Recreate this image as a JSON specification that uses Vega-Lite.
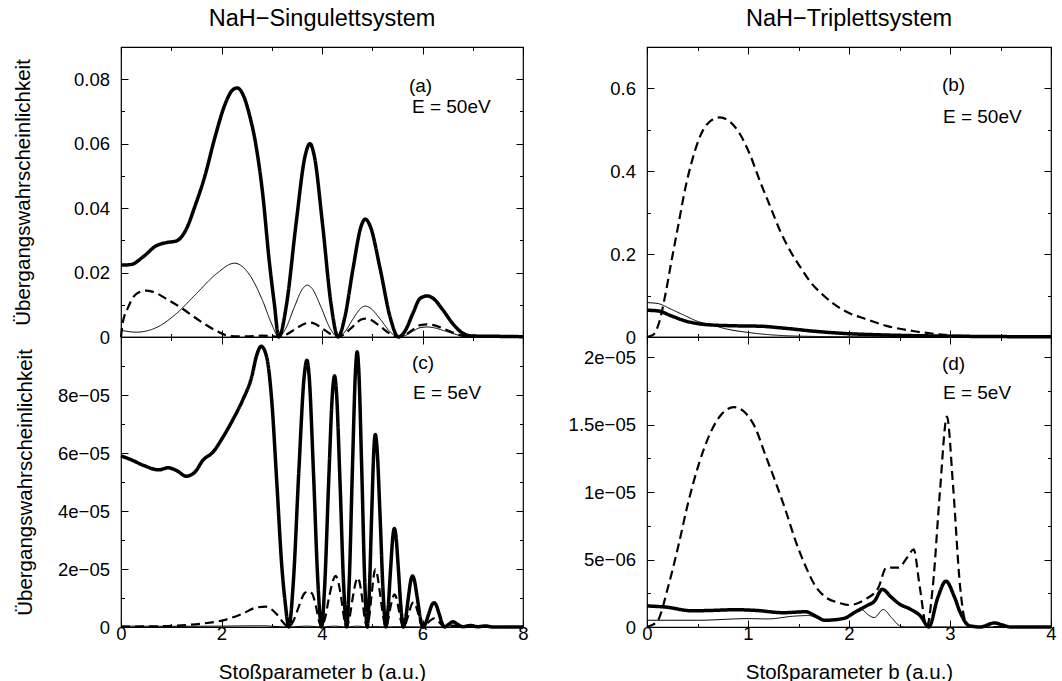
{
  "$schema": "https://vega.github.io/schema/vega-lite/v6.json",
  "background": "white",
  "padding": {"left": 12, "top": 6, "right": 0, "bottom": 0},
  "config": {
    "font": "Liberation Sans",
    "view": {"stroke": "#000", "strokeWidth": 1.2},
    "axis": {"grid": false, "domain": false, "tickColor": "#000", "tickWidth": 1, "labelColor": "#000", "titleColor": "#000", "labelFont": "Liberation Sans", "titleFont": "Liberation Sans", "labelFontSize": 18.5, "titleFontSize": 20.5, "titleFontWeight": "normal", "labelFlush": false, "labelOverlap": false, "labelBound": false},
    "title": {"font": "Liberation Sans", "fontSize": 23.5, "fontWeight": "normal", "color": "#000", "anchor": "middle", "frame": "group"},
    "line": {"strokeCap": "butt", "strokeJoin": "round"}
  },
  "datasets": {
    "A": [
      {"b":0,"P":0.0223,"k":"d"},{"b":0.2,"P":0.0225,"k":"d"},{"b":0.45,"P":0.025,"k":"d"},{"b":0.7,"P":0.0283,"k":"d"},{"b":0.9,"P":0.0293,"k":"d"},{"b":1.1,"P":0.0298,"k":"d"},{"b":1.3,"P":0.0335,"k":"d"},{"b":1.47,"P":0.0405,"k":"d"},{"b":1.67,"P":0.05,"k":"d"},{"b":1.87,"P":0.062,"k":"d"},{"b":2.07,"P":0.0722,"k":"d"},{"b":2.2,"P":0.0763,"k":"d"},{"b":2.31,"P":0.0773,"k":"d"},{"b":2.45,"P":0.0744,"k":"d"},{"b":2.55,"P":0.0693,"k":"d"},{"b":2.68,"P":0.06,"k":"d"},{"b":2.82,"P":0.0444,"k":"d"},{"b":2.95,"P":0.0236,"k":"d"},{"b":3.05,"P":0.0105,"k":"d"},{"b":3.14,"P":0,"k":"d"},
      {"b":3.295,"P":0.0102,"k":"d"},{"b":3.481,"P":0.0348,"k":"d"},{"b":3.667,"P":0.0564,"k":"d"},{"b":3.76,"P":0.06,"k":"d"},{"b":3.844,"P":0.0564,"k":"d"},{"b":4.012,"P":0.0348,"k":"d"},{"b":4.18,"P":0.0102,"k":"d"},{"b":4.32,"P":0,"k":"d"},
      {"b":4.455,"P":0.0062,"k":"d"},{"b":4.617,"P":0.0212,"k":"d"},{"b":4.779,"P":0.0344,"k":"d"},{"b":4.86,"P":0.0366,"k":"d"},{"b":4.959,"P":0.0344,"k":"d"},{"b":5.157,"P":0.0212,"k":"d"},{"b":5.355,"P":0.0062,"k":"d"},{"b":5.52,"P":0,"k":"d"},
      {"b":5.665,"P":0.0022,"k":"d"},{"b":5.81,"P":0.0074,"k":"d"},{"b":5.955,"P":0.012,"k":"d"},{"b":6.1,"P":0.01275,"k":"d"},{"b":6.22,"P":0.0119,"k":"d"},{"b":6.4,"P":0.0085,"k":"d"},{"b":6.6,"P":0.0042,"k":"d"},{"b":6.8,"P":0.0012,"k":"d"},{"b":7.0,"P":0.0003,"k":"d"},{"b":7.5,"P":0.0002,"k":"d"},{"b":8,"P":0.0001,"k":"d"},
      {"b":0,"P":0.0021,"k":"t"},{"b":0.3,"P":0.0015,"k":"t"},{"b":0.7,"P":0.0029,"k":"t"},{"b":1.09,"P":0.0071,"k":"t"},{"b":1.49,"P":0.0133,"k":"t"},{"b":1.89,"P":0.0195,"k":"t"},{"b":2.26,"P":0.0229,"k":"t"},{"b":2.55,"P":0.0195,"k":"t"},{"b":2.82,"P":0.0112,"k":"t"},{"b":3.0,"P":0.004,"k":"t"},{"b":3.14,"P":0,"k":"t"},
      {"b":3.28,"P":0.0027,"k":"t"},{"b":3.45,"P":0.0093,"k":"t"},{"b":3.62,"P":0.0151,"k":"t"},{"b":3.71,"P":0.0161,"k":"t"},{"b":3.8,"P":0.0151,"k":"t"},{"b":3.98,"P":0.0093,"k":"t"},{"b":4.16,"P":0.0027,"k":"t"},{"b":4.32,"P":0,"k":"t"},
      {"b":4.455,"P":0.0016,"k":"t"},{"b":4.617,"P":0.0056,"k":"t"},{"b":4.779,"P":0.009,"k":"t"},{"b":4.86,"P":0.0096,"k":"t"},{"b":4.959,"P":0.009,"k":"t"},{"b":5.157,"P":0.0056,"k":"t"},{"b":5.355,"P":0.0016,"k":"t"},{"b":5.52,"P":0,"k":"t"},
      {"b":5.665,"P":0.0005,"k":"t"},{"b":5.81,"P":0.0018,"k":"t"},{"b":5.955,"P":0.0029,"k":"t"},{"b":6.1,"P":0.0031,"k":"t"},{"b":6.22,"P":0.0029,"k":"t"},{"b":6.4,"P":0.0021,"k":"t"},{"b":6.6,"P":0.0011,"k":"t"},{"b":6.8,"P":0.0003,"k":"t"},{"b":7.0,"P":0.0001,"k":"t"},{"b":8,"P":0,"k":"t"},
      {"b":0,"P":0,"k":"s"},{"b":0.03,"P":0.004,"k":"s"},{"b":0.14,"P":0.0091,"k":"s"},{"b":0.3,"P":0.0133,"k":"s"},{"b":0.5,"P":0.0144,"k":"s"},{"b":0.62,"P":0.0141,"k":"s"},{"b":0.92,"P":0.0117,"k":"s"},{"b":1.24,"P":0.0086,"k":"s"},{"b":1.57,"P":0.005,"k":"s"},{"b":1.9,"P":0.0019,"k":"s"},{"b":2.17,"P":0.0003,"k":"s"},{"b":2.5,"P":0.0002,"k":"s"},{"b":2.8,"P":0.0004,"k":"s"},{"b":3.0,"P":0.0003,"k":"s"},{"b":3.14,"P":0,"k":"s"},
      {"b":3.295,"P":0.0008,"k":"s"},{"b":3.481,"P":0.0026,"k":"s"},{"b":3.667,"P":0.0042,"k":"s"},{"b":3.76,"P":0.0045,"k":"s"},{"b":3.844,"P":0.0042,"k":"s"},{"b":4.012,"P":0.0026,"k":"s"},{"b":4.18,"P":0.0008,"k":"s"},{"b":4.32,"P":0,"k":"s"},
      {"b":4.455,"P":0.001,"k":"s"},{"b":4.617,"P":0.0033,"k":"s"},{"b":4.779,"P":0.0054,"k":"s"},{"b":4.86,"P":0.0057,"k":"s"},{"b":4.959,"P":0.0054,"k":"s"},{"b":5.157,"P":0.0033,"k":"s"},{"b":5.355,"P":0.001,"k":"s"},{"b":5.52,"P":0,"k":"s"},
      {"b":5.665,"P":0.0007,"k":"s"},{"b":5.81,"P":0.0023,"k":"s"},{"b":5.955,"P":0.0037,"k":"s"},{"b":6.1,"P":0.0039,"k":"s"},{"b":6.22,"P":0.0037,"k":"s"},{"b":6.4,"P":0.0027,"k":"s"},{"b":6.6,"P":0.0014,"k":"s"},{"b":6.8,"P":0.0004,"k":"s"},{"b":7.0,"P":0.0001,"k":"s"},{"b":8,"P":0,"k":"s"}
    ],
    "B": [
      {"b":0,"P":0.0645,"k":"d"},{"b":0.11,"P":0.063,"k":"d"},{"b":0.24,"P":0.051,"k":"d"},{"b":0.38,"P":0.0387,"k":"d"},{"b":0.51,"P":0.032,"k":"d"},{"b":0.64,"P":0.029,"k":"d"},{"b":0.8,"P":0.0274,"k":"d"},{"b":0.97,"P":0.0266,"k":"d"},{"b":1.13,"P":0.026,"k":"d"},{"b":1.3,"P":0.0226,"k":"d"},{"b":1.47,"P":0.0186,"k":"d"},{"b":1.63,"P":0.0145,"k":"d"},{"b":1.83,"P":0.0105,"k":"d"},{"b":1.99,"P":0.008,"k":"d"},{"b":2.2,"P":0.006,"k":"d"},{"b":2.5,"P":0.004,"k":"d"},{"b":3.0,"P":0.002,"k":"d"},{"b":3.5,"P":0.001,"k":"d"},{"b":4,"P":0.0005,"k":"d"},
      {"b":0,"P":0.083,"k":"t"},{"b":0.11,"P":0.0806,"k":"t"},{"b":0.24,"P":0.067,"k":"t"},{"b":0.38,"P":0.051,"k":"t"},{"b":0.51,"P":0.037,"k":"t"},{"b":0.64,"P":0.029,"k":"t"},{"b":0.8,"P":0.0186,"k":"t"},{"b":0.97,"P":0.012,"k":"t"},{"b":1.3,"P":0.004,"k":"t"},{"b":1.63,"P":0.0015,"k":"t"},{"b":2.0,"P":0.0005,"k":"t"},{"b":4,"P":0,"k":"t"},
      {"b":0,"P":0,"k":"s"},{"b":0.06,"P":0.005,"k":"s"},{"b":0.12,"P":0.035,"k":"s"},{"b":0.18,"P":0.1,"k":"s"},{"b":0.24,"P":0.18,"k":"s"},{"b":0.31,"P":0.27,"k":"s"},{"b":0.38,"P":0.36,"k":"s"},{"b":0.44,"P":0.42,"k":"s"},{"b":0.51,"P":0.475,"k":"s"},{"b":0.6,"P":0.515,"k":"s"},{"b":0.72,"P":0.53,"k":"s"},{"b":0.82,"P":0.52,"k":"s"},{"b":0.92,"P":0.49,"k":"s"},{"b":1.02,"P":0.44,"k":"s"},{"b":1.12,"P":0.375,"k":"s"},{"b":1.22,"P":0.315,"k":"s"},{"b":1.32,"P":0.255,"k":"s"},{"b":1.42,"P":0.207,"k":"s"},{"b":1.52,"P":0.168,"k":"s"},{"b":1.62,"P":0.132,"k":"s"},{"b":1.74,"P":0.102,"k":"s"},{"b":1.86,"P":0.078,"k":"s"},{"b":2.0,"P":0.058,"k":"s"},{"b":2.17,"P":0.043,"k":"s"},{"b":2.37,"P":0.027,"k":"s"},{"b":2.63,"P":0.0145,"k":"s"},{"b":2.89,"P":0.0065,"k":"s"},{"b":3.06,"P":0.003,"k":"s"},{"b":3.5,"P":0.001,"k":"s"},{"b":4,"P":0,"k":"s"}
    ],
    "C": [
      {"b":0,"P":5.9e-5,"k":"d"},{"b":0.2,"P":5.77e-5,"k":"d"},{"b":0.45,"P":5.57e-5,"k":"d"},{"b":0.75,"P":5.42e-5,"k":"d"},{"b":0.94,"P":5.49e-5,"k":"d"},{"b":1.1,"P":5.4e-5,"k":"d"},{"b":1.3,"P":5.2e-5,"k":"d"},{"b":1.47,"P":5.34e-5,"k":"d"},{"b":1.63,"P":5.75e-5,"k":"d"},{"b":1.83,"P":6.03e-5,"k":"d"},{"b":2.03,"P":6.55e-5,"k":"d"},{"b":2.22,"P":7.13e-5,"k":"d"},{"b":2.42,"P":7.82e-5,"k":"d"},{"b":2.6,"P":8.62e-5,"k":"d"},{"b":2.7,"P":9.37e-5,"k":"d"},{"b":2.79,"P":9.68e-5,"k":"d"},{"b":2.9,"P":9.3e-5,"k":"d"},{"b":3.0,"P":7.8e-5,"k":"d"},{"b":3.1,"P":5.0e-5,"k":"d"},{"b":3.2,"P":2.1e-5,"k":"d"},{"b":3.27,"P":8e-6,"k":"d"},{"b":3.34,"P":0,"k":"d"},
      {"b":3.43,"P":1.56e-5,"k":"d"},{"b":3.538,"P":5.34e-5,"k":"d"},{"b":3.646,"P":8.65e-5,"k":"d"},{"b":3.7,"P":9.2e-5,"k":"d"},{"b":3.744,"P":8.65e-5,"k":"d"},{"b":3.83,"P":5.34e-5,"k":"d"},{"b":3.918,"P":1.56e-5,"k":"d"},{"b":3.99,"P":0,"k":"d"},
      {"b":4.055,"P":1.47e-5,"k":"d"},{"b":4.133,"P":5.02e-5,"k":"d"},{"b":4.211,"P":8.14e-5,"k":"d"},{"b":4.25,"P":8.66e-5,"k":"d"},{"b":4.286,"P":8.14e-5,"k":"d"},{"b":4.358,"P":5.02e-5,"k":"d"},{"b":4.43,"P":1.47e-5,"k":"d"},{"b":4.49,"P":0,"k":"d"},
      {"b":4.543,"P":1.61e-5,"k":"d"},{"b":4.606,"P":5.5e-5,"k":"d"},{"b":4.669,"P":8.92e-5,"k":"d"},{"b":4.7,"P":9.49e-5,"k":"d"},{"b":4.73,"P":8.92e-5,"k":"d"},{"b":4.79,"P":5.5e-5,"k":"d"},{"b":4.85,"P":1.61e-5,"k":"d"},{"b":4.9,"P":0,"k":"d"},
      {"b":4.94,"P":1.13e-5,"k":"d"},{"b":4.988,"P":3.85e-5,"k":"d"},{"b":5.036,"P":6.24e-5,"k":"d"},{"b":5.06,"P":6.64e-5,"k":"d"},{"b":5.092,"P":6.24e-5,"k":"d"},{"b":5.155,"P":3.85e-5,"k":"d"},{"b":5.218,"P":1.13e-5,"k":"d"},{"b":5.27,"P":0,"k":"d"},
      {"b":5.313,"P":5.8e-6,"k":"d"},{"b":5.364,"P":1.97e-5,"k":"d"},{"b":5.415,"P":3.2e-5,"k":"d"},{"b":5.44,"P":3.4e-5,"k":"d"},{"b":5.467,"P":3.2e-5,"k":"d"},{"b":5.521,"P":1.97e-5,"k":"d"},{"b":5.575,"P":5.8e-6,"k":"d"},{"b":5.62,"P":0,"k":"d"},
      {"b":5.665,"P":3e-6,"k":"d"},{"b":5.719,"P":1.02e-5,"k":"d"},{"b":5.773,"P":1.65e-5,"k":"d"},{"b":5.8,"P":1.76e-5,"k":"d"},{"b":5.832,"P":1.65e-5,"k":"d"},{"b":5.895,"P":1.02e-5,"k":"d"},{"b":5.958,"P":3e-6,"k":"d"},{"b":6.01,"P":0,"k":"d"},
      {"b":6.065,"P":1.4e-6,"k":"d"},{"b":6.131,"P":4.9e-6,"k":"d"},{"b":6.197,"P":7.9e-6,"k":"d"},{"b":6.23,"P":8.4e-6,"k":"d"},{"b":6.262,"P":7.9e-6,"k":"d"},{"b":6.325,"P":4.9e-6,"k":"d"},{"b":6.388,"P":1.4e-6,"k":"d"},{"b":6.44,"P":0,"k":"d"},
      {"b":6.52,"P":9e-7,"k":"d"},{"b":6.61,"P":1.8e-6,"k":"d"},{"b":6.7,"P":9e-7,"k":"d"},{"b":6.8,"P":1e-7,"k":"d"},{"b":6.95,"P":5e-7,"k":"d"},{"b":7.1,"P":1e-7,"k":"d"},{"b":7.25,"P":3.5e-7,"k":"d"},{"b":7.4,"P":0,"k":"d"},{"b":8,"P":0,"k":"d"},
      {"b":0,"P":3e-7,"k":"t"},{"b":1,"P":2.5e-7,"k":"t"},{"b":2,"P":3e-7,"k":"t"},{"b":2.8,"P":4e-7,"k":"t"},{"b":3.34,"P":0,"k":"t"},{"b":3.7,"P":3e-7,"k":"t"},{"b":3.99,"P":0,"k":"t"},{"b":4.25,"P":3e-7,"k":"t"},{"b":4.49,"P":0,"k":"t"},{"b":4.7,"P":3e-7,"k":"t"},{"b":4.9,"P":0,"k":"t"},{"b":5.06,"P":2e-7,"k":"t"},{"b":5.27,"P":0,"k":"t"},{"b":5.5,"P":1e-7,"k":"t"},{"b":6,"P":0,"k":"t"},{"b":8,"P":0,"k":"t"},
      {"b":0,"P":1e-7,"k":"s"},{"b":0.5,"P":2e-7,"k":"s"},{"b":1.0,"P":4e-7,"k":"s"},{"b":1.57,"P":1.1e-6,"k":"s"},{"b":2.03,"P":2.3e-6,"k":"s"},{"b":2.42,"P":4.6e-6,"k":"s"},{"b":2.69,"P":6.7e-6,"k":"s"},{"b":2.88,"P":7e-6,"k":"s"},{"b":3.09,"P":4.6e-6,"k":"s"},{"b":3.25,"P":1.1e-6,"k":"s"},{"b":3.34,"P":0,"k":"s"},
      {"b":3.43,"P":2.1e-6,"k":"s"},{"b":3.54,"P":7.1e-6,"k":"s"},{"b":3.65,"P":1.16e-5,"k":"s"},{"b":3.73,"P":1.23e-5,"k":"s"},{"b":3.8,"P":1.16e-5,"k":"s"},{"b":3.88,"P":7.1e-6,"k":"s"},{"b":3.94,"P":2.1e-6,"k":"s"},{"b":3.99,"P":0,"k":"s"},
      {"b":4.06,"P":3e-6,"k":"s"},{"b":4.14,"P":1.02e-5,"k":"s"},{"b":4.23,"P":1.65e-5,"k":"s"},{"b":4.27,"P":1.76e-5,"k":"s"},{"b":4.31,"P":1.65e-5,"k":"s"},{"b":4.38,"P":1.02e-5,"k":"s"},{"b":4.44,"P":3e-6,"k":"s"},{"b":4.49,"P":0,"k":"s"},
      {"b":4.545,"P":2.9e-6,"k":"s"},{"b":4.61,"P":9.9e-6,"k":"s"},{"b":4.68,"P":1.6e-5,"k":"s"},{"b":4.71,"P":1.7e-5,"k":"s"},{"b":4.74,"P":1.6e-5,"k":"s"},{"b":4.8,"P":9.9e-6,"k":"s"},{"b":4.85,"P":2.9e-6,"k":"s"},{"b":4.9,"P":0,"k":"s"},
      {"b":4.94,"P":3.4e-6,"k":"s"},{"b":4.99,"P":1.15e-5,"k":"s"},{"b":5.04,"P":1.87e-5,"k":"s"},{"b":5.06,"P":1.99e-5,"k":"s"},{"b":5.09,"P":1.87e-5,"k":"s"},{"b":5.155,"P":1.15e-5,"k":"s"},{"b":5.22,"P":3.4e-6,"k":"s"},{"b":5.27,"P":0,"k":"s"},
      {"b":5.31,"P":1.9e-6,"k":"s"},{"b":5.36,"P":6.6e-6,"k":"s"},{"b":5.42,"P":1.06e-5,"k":"s"},{"b":5.44,"P":1.13e-5,"k":"s"},{"b":5.47,"P":1.06e-5,"k":"s"},{"b":5.52,"P":6.6e-6,"k":"s"},{"b":5.575,"P":1.9e-6,"k":"s"},{"b":5.62,"P":0,"k":"s"},
      {"b":5.67,"P":1.4e-6,"k":"s"},{"b":5.73,"P":4.9e-6,"k":"s"},{"b":5.79,"P":8e-6,"k":"s"},{"b":5.82,"P":8.5e-6,"k":"s"},{"b":5.85,"P":8e-6,"k":"s"},{"b":5.91,"P":4.9e-6,"k":"s"},{"b":5.96,"P":1.4e-6,"k":"s"},{"b":6.01,"P":0,"k":"s"},
      {"b":6.12,"P":1.7e-6,"k":"s"},{"b":6.23,"P":3e-6,"k":"s"},{"b":6.33,"P":1.7e-6,"k":"s"},{"b":6.44,"P":0,"k":"s"},{"b":6.61,"P":5e-7,"k":"s"},{"b":6.8,"P":0,"k":"s"},{"b":8,"P":0,"k":"s"}
    ],
    "D": [
      {"b":0,"P":1.56e-6,"k":"d"},{"b":0.18,"P":1.48e-6,"k":"d"},{"b":0.45,"P":1.2e-6,"k":"d"},{"b":0.64,"P":1.23e-6,"k":"d"},{"b":0.88,"P":1.28e-6,"k":"d"},{"b":1.08,"P":1.23e-6,"k":"d"},{"b":1.35,"P":1.06e-6,"k":"d"},{"b":1.57,"P":1.13e-6,"k":"d"},{"b":1.67,"P":8.1e-7,"k":"d"},{"b":1.76,"P":5e-7,"k":"d"},{"b":1.95,"P":6.4e-7,"k":"d"},{"b":2.06,"P":1.1e-6,"k":"d"},{"b":2.18,"P":1.6e-6,"k":"d"},{"b":2.25,"P":1.9e-6,"k":"d"},{"b":2.33,"P":2.79e-6,"k":"d"},{"b":2.42,"P":2.2e-6,"k":"d"},{"b":2.5,"P":1.7e-6,"k":"d"},{"b":2.6,"P":1.35e-6,"k":"d"},{"b":2.71,"P":8e-7,"k":"d"},{"b":2.79,"P":0,"k":"d"},{"b":2.88,"P":2.2e-6,"k":"d"},{"b":2.96,"P":3.4e-6,"k":"d"},{"b":3.04,"P":2.3e-6,"k":"d"},{"b":3.1,"P":1.1e-6,"k":"d"},{"b":3.19,"P":1e-7,"k":"d"},{"b":3.3,"P":0,"k":"d"},{"b":3.44,"P":3e-7,"k":"d"},{"b":3.52,"P":1.5e-7,"k":"d"},{"b":3.6,"P":0,"k":"d"},{"b":4,"P":0,"k":"d"},
      {"b":0,"P":5e-7,"k":"t"},{"b":0.5,"P":5e-7,"k":"t"},{"b":1.0,"P":6.2e-7,"k":"t"},{"b":1.2,"P":6e-7,"k":"t"},{"b":1.45,"P":8e-7,"k":"t"},{"b":1.6,"P":8.5e-7,"k":"t"},{"b":1.75,"P":5e-7,"k":"t"},{"b":1.95,"P":6.4e-7,"k":"t"},{"b":2.12,"P":1.3e-6,"k":"t"},{"b":2.2,"P":8.5e-7,"k":"t"},{"b":2.25,"P":7e-7,"k":"t"},{"b":2.34,"P":1.3e-6,"k":"t"},{"b":2.42,"P":7e-7,"k":"t"},{"b":2.5,"P":1e-7,"k":"t"},{"b":2.56,"P":0,"k":"t"},{"b":4,"P":0,"k":"t"},
      {"b":0,"P":0,"k":"s"},{"b":0.1,"P":4e-7,"k":"s"},{"b":0.21,"P":3e-6,"k":"s"},{"b":0.31,"P":6e-6,"k":"s"},{"b":0.41,"P":9.3e-6,"k":"s"},{"b":0.51,"P":1.2e-5,"k":"s"},{"b":0.61,"P":1.41e-5,"k":"s"},{"b":0.73,"P":1.57e-5,"k":"s"},{"b":0.86,"P":1.63e-5,"k":"s"},{"b":0.97,"P":1.59e-5,"k":"s"},{"b":1.07,"P":1.48e-5,"k":"s"},{"b":1.17,"P":1.28e-5,"k":"s"},{"b":1.27,"P":1.08e-5,"k":"s"},{"b":1.37,"P":8.7e-6,"k":"s"},{"b":1.47,"P":6.4e-6,"k":"s"},{"b":1.57,"P":4.5e-6,"k":"s"},{"b":1.67,"P":3e-6,"k":"s"},{"b":1.77,"P":2.2e-6,"k":"s"},{"b":1.9,"P":1.8e-6,"k":"s"},{"b":2.0,"P":1.63e-6,"k":"s"},{"b":2.16,"P":2.05e-6,"k":"s"},{"b":2.29,"P":2.9e-6,"k":"s"},{"b":2.37,"P":4.4e-6,"k":"s"},{"b":2.49,"P":4.4e-6,"k":"s"},{"b":2.58,"P":5.2e-6,"k":"s"},{"b":2.64,"P":5.75e-6,"k":"s"},{"b":2.7,"P":3e-6,"k":"s"},{"b":2.77,"P":0,"k":"s"},{"b":2.83,"P":3e-6,"k":"s"},{"b":2.9,"P":1e-5,"k":"s"},{"b":2.97,"P":1.56e-5,"k":"s"},{"b":3.03,"P":1.05e-5,"k":"s"},{"b":3.1,"P":3e-6,"k":"s"},{"b":3.15,"P":4.4e-7,"k":"s"},{"b":3.2,"P":0,"k":"s"},{"b":4,"P":0,"k":"s"}
    ]
  },
  "columns": 2,
  "spacing": {"row": 0, "column": 124},
  "bounds": "flush",
  "concat": [
    {
      "width": 402, "height": 290,
      "title": {"text": "NaH−Singulettsystem", "baseline": "alphabetic", "offset": -3},
      "layer": [
        {
          "data": {"name": "A"},
          "mark": {"type": "line", "interpolate": "monotone", "color": "#000"},
          "encoding": {
            "x": {"field": "b", "type": "quantitative", "scale": {"domain": [0, 8], "nice": false}, "axis": {"orient": "bottom", "values": [0,1,2,3,4,5,6,7,8], "labels": false, "title": null, "tickSize": {"condition": {"test": "datum.value % 2 == 0", "value": -7}, "value": -3.5}}},
            "y": {"field": "P", "type": "quantitative", "scale": {"domain": [0, 0.09], "nice": false}, "axis": {"orient": "left", "values": [0,0.01,0.02,0.03,0.04,0.05,0.06,0.07,0.08], "labelExpr": "['0','','0.02','','0.04','','0.06','','0.08'][round(datum.value*100)]", "title": "Übergangswahrscheinlichkeit", "titlePadding": 40, "labelPadding": 18.5, "tickSize": {"condition": {"test": "round(datum.value*100) % 2 == 0", "value": -7}, "value": -3.5}}},
            "strokeWidth": {"field": "k", "type": "nominal", "scale": {"type": "ordinal", "domain": ["d","t","s"], "range": [3.5, 1, 2.2]}, "legend": null},
            "strokeDash": {"field": "k", "type": "nominal", "scale": {"type": "ordinal", "domain": ["d","t","s"], "range": [[1,0],[1,0],[9,5]]}, "legend": null}
          }
        },
        {
          "data": {"name": "A"},
          "mark": {"type": "point", "opacity": 0},
          "encoding": {
            "x": {"field": "b", "type": "quantitative", "scale": {"domain": [0, 8], "nice": false}, "axis": {"orient": "top", "values": [0,1,2,3,4,5,6,7,8], "labels": false, "title": null, "tickSize": {"condition": {"test": "datum.value % 2 == 0", "value": -7}, "value": -3.5}}},
            "y": {"field": "P", "type": "quantitative", "scale": {"domain": [0, 0.09], "nice": false}, "axis": {"orient": "right", "values": [0,0.01,0.02,0.03,0.04,0.05,0.06,0.07,0.08], "labels": false, "title": null, "tickSize": {"condition": {"test": "round(datum.value*100) % 2 == 0", "value": -7}, "value": -3.5}}}
          }
        },
        {
          "data": {"values": [{}]},
          "mark": {"type": "text", "align": "left", "baseline": "alphabetic", "fontSize": 19, "font": "Liberation Sans", "color": "#000"},
          "encoding": {
            "x": {"datum": 5.73, "type": "quantitative", "scale": {"domain": [0, 8], "nice": false}, "axis": null},
            "y": {"datum": 0.0759, "type": "quantitative", "scale": {"domain": [0, 0.09], "nice": false}, "axis": null},
            "text": {"value": "(a)"}
          }
        },
        {
          "data": {"values": [{}]},
          "mark": {"type": "text", "align": "left", "baseline": "alphabetic", "fontSize": 19, "font": "Liberation Sans", "color": "#000"},
          "encoding": {
            "x": {"datum": 5.79, "type": "quantitative", "scale": {"domain": [0, 8], "nice": false}, "axis": null},
            "y": {"datum": 0.0696, "type": "quantitative", "scale": {"domain": [0, 0.09], "nice": false}, "axis": null},
            "text": {"value": "E = 50eV"}
          }
        }
      ],
      "resolve": {"axis": {"x": "independent", "y": "independent"}}
    },
    {
      "width": 404, "height": 290,
      "title": {"text": "NaH−Triplettsystem", "baseline": "alphabetic", "offset": -3},
      "layer": [
        {
          "data": {"name": "B"},
          "mark": {"type": "line", "interpolate": "monotone", "color": "#000"},
          "encoding": {
            "x": {"field": "b", "type": "quantitative", "scale": {"domain": [0, 4], "nice": false}, "axis": {"orient": "bottom", "values": [0,0.5,1,1.5,2,2.5,3,3.5,4], "labels": false, "title": null, "tickSize": {"condition": {"test": "datum.value % 1 == 0", "value": -7}, "value": -3.5}}},
            "y": {"field": "P", "type": "quantitative", "scale": {"domain": [0, 0.7], "nice": false}, "axis": {"orient": "left", "values": [0,0.1,0.2,0.3,0.4,0.5,0.6], "labelExpr": "['0','','0.2','','0.4','','0.6'][round(datum.value*10)]", "title": null, "labelPadding": 18.5, "tickSize": {"condition": {"test": "round(datum.value*10) % 2 == 0", "value": -7}, "value": -3.5}}},
            "strokeWidth": {"field": "k", "type": "nominal", "scale": {"type": "ordinal", "domain": ["d","t","s"], "range": [3.5, 1, 2.2]}, "legend": null},
            "strokeDash": {"field": "k", "type": "nominal", "scale": {"type": "ordinal", "domain": ["d","t","s"], "range": [[1,0],[1,0],[9,5]]}, "legend": null}
          }
        },
        {
          "data": {"name": "B"},
          "mark": {"type": "point", "opacity": 0},
          "encoding": {
            "x": {"field": "b", "type": "quantitative", "scale": {"domain": [0, 4], "nice": false}, "axis": {"orient": "top", "values": [0,0.5,1,1.5,2,2.5,3,3.5,4], "labels": false, "title": null, "tickSize": {"condition": {"test": "datum.value % 1 == 0", "value": -7}, "value": -3.5}}},
            "y": {"field": "P", "type": "quantitative", "scale": {"domain": [0, 0.7], "nice": false}, "axis": {"orient": "right", "values": [0,0.1,0.2,0.3,0.4,0.5,0.6], "labels": false, "title": null, "tickSize": {"condition": {"test": "round(datum.value*10) % 2 == 0", "value": -7}, "value": -3.5}}}
          }
        },
        {
          "data": {"values": [{}]},
          "mark": {"type": "text", "align": "left", "baseline": "alphabetic", "fontSize": 19, "font": "Liberation Sans", "color": "#000"},
          "encoding": {
            "x": {"datum": 2.92, "type": "quantitative", "scale": {"domain": [0, 4], "nice": false}, "axis": null},
            "y": {"datum": 0.594, "type": "quantitative", "scale": {"domain": [0, 0.7], "nice": false}, "axis": null},
            "text": {"value": "(b)"}
          }
        },
        {
          "data": {"values": [{}]},
          "mark": {"type": "text", "align": "left", "baseline": "alphabetic", "fontSize": 19, "font": "Liberation Sans", "color": "#000"},
          "encoding": {
            "x": {"datum": 2.93, "type": "quantitative", "scale": {"domain": [0, 4], "nice": false}, "axis": null},
            "y": {"datum": 0.517, "type": "quantitative", "scale": {"domain": [0, 0.7], "nice": false}, "axis": null},
            "text": {"value": "E = 50eV"}
          }
        }
      ],
      "resolve": {"axis": {"x": "independent", "y": "independent"}}
    },
    {
      "width": 402, "height": 290,
      "layer": [
        {
          "data": {"name": "C"},
          "mark": {"type": "line", "interpolate": "monotone", "color": "#000"},
          "encoding": {
            "x": {"field": "b", "type": "quantitative", "scale": {"domain": [0, 8], "nice": false}, "axis": {"orient": "bottom", "values": [0,1,2,3,4,5,6,7,8], "labelExpr": "datum.value % 2 == 0 ? '' + datum.value : ''", "title": "Stoßparameter b (a.u.)", "labelPadding": 4, "titlePadding": 16, "tickSize": {"condition": {"test": "datum.value % 2 == 0", "value": -7}, "value": -3.5}}},
            "y": {"field": "P", "type": "quantitative", "scale": {"domain": [0, 0.0001], "nice": false}, "axis": {"orient": "left", "values": [0,0.00001,0.00002,0.00003,0.00004,0.00005,0.00006,0.00007,0.00008,0.00009], "labelExpr": "['0','','2e−05','','4e−05','','6e−05','','8e−05',''][round(datum.value*100000)]", "title": "Übergangswahrscheinlichkeit", "titlePadding": 22, "labelPadding": 18.5, "tickSize": {"condition": {"test": "round(datum.value*100000) % 2 == 0", "value": -7}, "value": -3.5}}},
            "strokeWidth": {"field": "k", "type": "nominal", "scale": {"type": "ordinal", "domain": ["d","t","s"], "range": [3.5, 1, 2.2]}, "legend": null},
            "strokeDash": {"field": "k", "type": "nominal", "scale": {"type": "ordinal", "domain": ["d","t","s"], "range": [[1,0],[1,0],[9,5]]}, "legend": null}
          }
        },
        {
          "data": {"name": "C"},
          "mark": {"type": "point", "opacity": 0},
          "encoding": {
            "x": {"field": "b", "type": "quantitative", "scale": {"domain": [0, 8], "nice": false}, "axis": {"orient": "top", "values": [0,1,2,3,4,5,6,7,8], "labels": false, "title": null, "tickSize": {"condition": {"test": "datum.value % 2 == 0", "value": -7}, "value": -3.5}}},
            "y": {"field": "P", "type": "quantitative", "scale": {"domain": [0, 0.0001], "nice": false}, "axis": {"orient": "right", "values": [0,0.00001,0.00002,0.00003,0.00004,0.00005,0.00006,0.00007,0.00008,0.00009], "labels": false, "title": null, "tickSize": {"condition": {"test": "round(datum.value*100000) % 2 == 0", "value": -7}, "value": -3.5}}}
          }
        },
        {
          "data": {"values": [{}]},
          "mark": {"type": "text", "align": "left", "baseline": "alphabetic", "fontSize": 19, "font": "Liberation Sans", "color": "#000"},
          "encoding": {
            "x": {"datum": 5.79, "type": "quantitative", "scale": {"domain": [0, 8], "nice": false}, "axis": null},
            "y": {"datum": 0.000089, "type": "quantitative", "scale": {"domain": [0, 0.0001], "nice": false}, "axis": null},
            "text": {"value": "(c)"}
          }
        },
        {
          "data": {"values": [{}]},
          "mark": {"type": "text", "align": "left", "baseline": "alphabetic", "fontSize": 19, "font": "Liberation Sans", "color": "#000"},
          "encoding": {
            "x": {"datum": 5.81, "type": "quantitative", "scale": {"domain": [0, 8], "nice": false}, "axis": null},
            "y": {"datum": 0.0000785, "type": "quantitative", "scale": {"domain": [0, 0.0001], "nice": false}, "axis": null},
            "text": {"value": "E = 5eV"}
          }
        }
      ],
      "resolve": {"axis": {"x": "independent", "y": "independent"}}
    },
    {
      "width": 404, "height": 290,
      "layer": [
        {
          "data": {"name": "D"},
          "mark": {"type": "line", "interpolate": "monotone", "color": "#000"},
          "encoding": {
            "x": {"field": "b", "type": "quantitative", "scale": {"domain": [0, 4], "nice": false}, "axis": {"orient": "bottom", "values": [0,0.5,1,1.5,2,2.5,3,3.5,4], "labelExpr": "datum.value % 1 == 0 ? '' + datum.value : ''", "title": "Stoßparameter b (a.u.)", "labelPadding": 4, "titlePadding": 16, "tickSize": {"condition": {"test": "datum.value % 1 == 0", "value": -7}, "value": -3.5}}},
            "y": {"field": "P", "type": "quantitative", "scale": {"domain": [0, 0.0000215], "nice": false}, "axis": {"orient": "left", "values": [0,0.0000025,0.000005,0.0000075,0.00001,0.0000125,0.000015,0.0000175,0.00002], "labelExpr": "['0','','5e−06','','1e−05','','1.5e−05','','2e−05'][round(datum.value*400000)]", "title": null, "labelPadding": 18.5, "tickSize": {"condition": {"test": "round(datum.value*400000) % 2 == 0", "value": -7}, "value": -3.5}}},
            "strokeWidth": {"field": "k", "type": "nominal", "scale": {"type": "ordinal", "domain": ["d","t","s"], "range": [3.5, 1, 2.2]}, "legend": null},
            "strokeDash": {"field": "k", "type": "nominal", "scale": {"type": "ordinal", "domain": ["d","t","s"], "range": [[1,0],[1,0],[9,5]]}, "legend": null}
          }
        },
        {
          "data": {"name": "D"},
          "mark": {"type": "point", "opacity": 0},
          "encoding": {
            "x": {"field": "b", "type": "quantitative", "scale": {"domain": [0, 4], "nice": false}, "axis": {"orient": "top", "values": [0,0.5,1,1.5,2,2.5,3,3.5,4], "labels": false, "title": null, "tickSize": {"condition": {"test": "datum.value % 1 == 0", "value": -7}, "value": -3.5}}},
            "y": {"field": "P", "type": "quantitative", "scale": {"domain": [0, 0.0000215], "nice": false}, "axis": {"orient": "right", "values": [0,0.0000025,0.000005,0.0000075,0.00001,0.0000125,0.000015,0.0000175,0.00002], "labels": false, "title": null, "tickSize": {"condition": {"test": "round(datum.value*400000) % 2 == 0", "value": -7}, "value": -3.5}}}
          }
        },
        {
          "data": {"values": [{}]},
          "mark": {"type": "text", "align": "left", "baseline": "alphabetic", "fontSize": 19, "font": "Liberation Sans", "color": "#000"},
          "encoding": {
            "x": {"datum": 2.92, "type": "quantitative", "scale": {"domain": [0, 4], "nice": false}, "axis": null},
            "y": {"datum": 0.00001905, "type": "quantitative", "scale": {"domain": [0, 0.0000215], "nice": false}, "axis": null},
            "text": {"value": "(d)"}
          }
        },
        {
          "data": {"values": [{}]},
          "mark": {"type": "text", "align": "left", "baseline": "alphabetic", "fontSize": 19, "font": "Liberation Sans", "color": "#000"},
          "encoding": {
            "x": {"datum": 2.93, "type": "quantitative", "scale": {"domain": [0, 4], "nice": false}, "axis": null},
            "y": {"datum": 0.00001688, "type": "quantitative", "scale": {"domain": [0, 0.0000215], "nice": false}, "axis": null},
            "text": {"value": "E = 5eV"}
          }
        }
      ],
      "resolve": {"axis": {"x": "independent", "y": "independent"}}
    }
  ]
}
